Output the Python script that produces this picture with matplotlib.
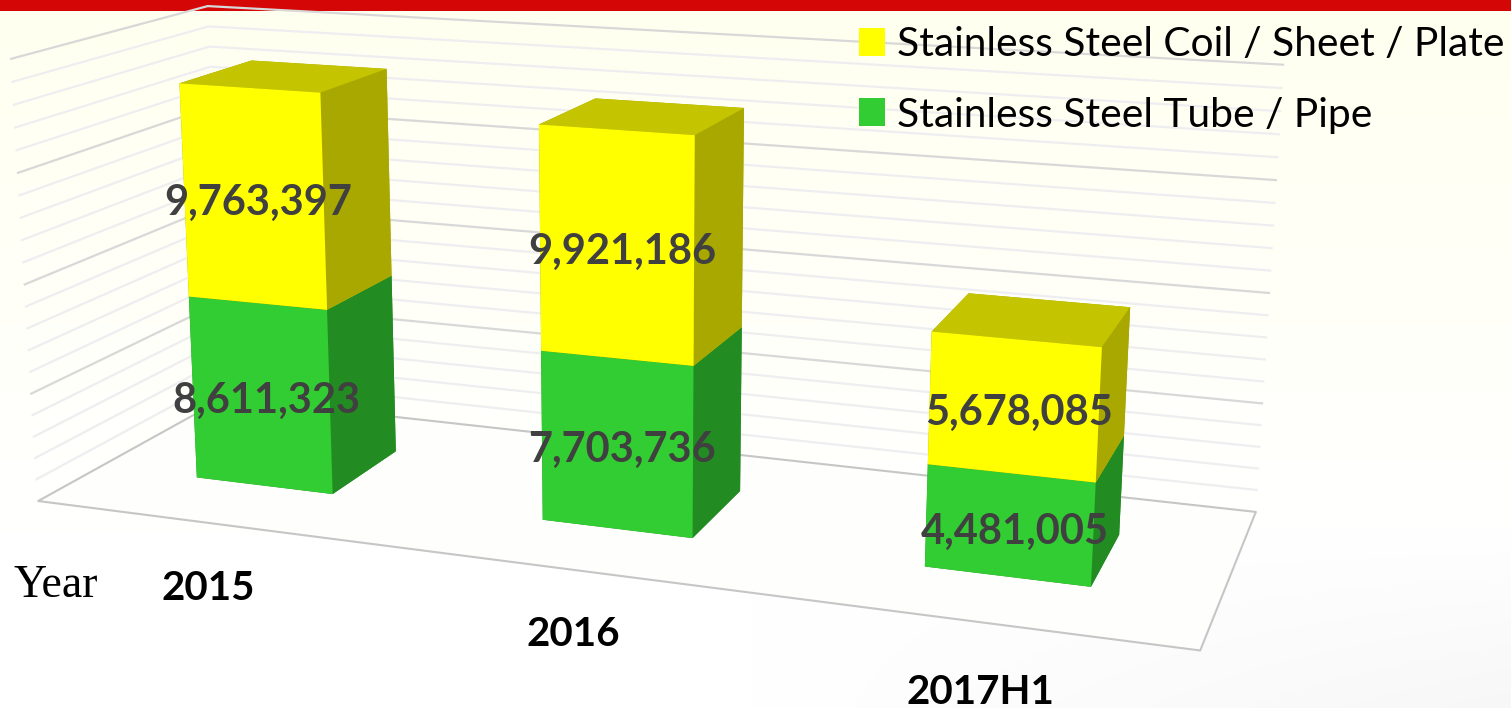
import numpy as np
import matplotlib
matplotlib.use("Agg")
import matplotlib.pyplot as plt
from matplotlib.patches import Patch, Rectangle
from mpl_toolkits.mplot3d import proj3d
from mpl_toolkits.mplot3d.art3d import Poly3DCollection

# Data
years = ["2015", "2016", "2017H1"]
tube = [8611323, 7703736, 4481005]
coil = [9763397, 9921186, 5678085]
series_names = ["Stainless Steel Coil / Sheet / Plate", "Stainless Steel Tube / Pipe"]
grid_levels = list(range(0, 21000000, 1000000))

W, H = 1511, 708
S = 1700  # side of the square 3d axes, in pixels

# camera, fitted against the picture
elev, azim, roll = 14.2614, -70.1412, -0.0291
focal, zoom = 0.2820, 0.7573
cx, cy = 620.08, 311.64
box_y, box_z = 0.3323, 0.3879
bar_w, bar_y0, bar_y1, bar_x0 = 0.4043, 0.3107, 0.7011, 0.296
z_max = 20000000


def fig_xy(x, y):
    return x / W, 1 - y / H


fig = plt.figure(figsize=(W / 100, H / 100), dpi=100)

# page background
bg = fig.add_axes([0, 0, 1, 1], zorder=0)
v = np.linspace(0, 1, 200)[:, None]
u = np.linspace(0, 1, 300)[None, :]
fade = np.clip(v / 0.75, 0, 1)
img = np.ones((200, 300, 3))
img[:, :, 2] = 0.94 + 0.06 * fade
shade = np.clip((v - 0.75) / 0.25, 0, 1) * np.clip((u - 0.5) / 0.5, 0, 1) * 0.03
img = np.clip(img - shade[:, :, None], 0, 1)
bg.imshow(img, extent=[0, W, H, 0], aspect="auto", interpolation="bilinear")
bg.add_patch(Rectangle((0, 0), W, 11, fc="#D50606", ec="none"))
bg.set_xlim(0, W)
bg.set_ylim(H, 0)
bg.axis("off")

ax = fig.add_axes([(cx - S / 2) / W, 1 - (cy + S / 2) / H, S / W, S / H],
                  projection="3d", zorder=1)
ax.patch.set_alpha(0)
ax.computed_zorder = False
ax.set_xlim(0, 3)
ax.set_ylim(0, 1)
ax.set_zlim(0, z_max)
ax.view_init(elev=elev, azim=azim, roll=roll)
ax.set_proj_type("persp", focal_length=focal)
ax.set_box_aspect((1, box_y, box_z), zoom=zoom)
ax.set_axis_off()
ax.apply_aspect()
M = ax.get_proj()

# floor
floor = Poly3DCollection([[(0, 0, 0), (3, 0, 0), (3, 1, 0), (0, 1, 0)]],
                         facecolor="#FEFEFD", edgecolor="#C6C6C6", linewidth=1.5, zorder=1)
ax.add_collection3d(floor)

# wall grid, heavier every 5 million
for lev in grid_levels[1:]:
    major = lev % 5000000 == 0
    ax.plot([0, 0, 3], [0, 1, 1], [lev, lev, lev],
            color="#D8D8D8" if major else "#EEEEF1", lw=1.6, zorder=2)

# stacked boxes, faces are -z +z -y +y -x +x
yellow = ["#C4C400", "#C4C400", "#FFFF00", "#A8A800", "#A8A800", "#A8A800"]
green = ["#228B22", "#228B22", "#32CD32", "#228B22", "#228B22", "#228B22"]
for i in range(3):
    x = bar_x0 + i
    ax.bar3d(x, bar_y0, 0, bar_w, bar_y1 - bar_y0, tube[i], color=green, shade=False, zorder=3 + i)
    ax.bar3d(x, bar_y0, tube[i], bar_w, bar_y1 - bar_y0, coil[i], color=yellow, shade=False, zorder=3.5 + i)

    # value labels go on the page at the projected spot of the front face
    for base, val in [(0, tube[i]), (tube[i], coil[i])]:
        px, py, _ = proj3d.proj_transform(x + bar_w / 2 + 0.015, bar_y0, base + val / 2 - 250000, M)
        px, py = ax.transData.transform((px, py))
        fig.text(px / W, py / H, f"{val:,}", ha="center", va="center", fontsize=30,
                 fontweight="bold", family="Lato", color="#404040", zorder=5)

# category labels sit on the page
year_pos = [(208, 589), (573, 635), (980, 692)]
for name, (px, py) in zip(years, year_pos):
    fx, fy = fig_xy(px, py)
    fig.text(fx, fy, name, ha="center", va="center", fontsize=29, fontweight="bold",
             family="Lato", color="black", zorder=5)
fx, fy = fig_xy(14, 586)
fig.text(fx, fy, "Year", ha="left", va="center", fontsize=33, family="Liberation Serif",
         color="black", zorder=5)

handles = [Patch(fc="#FFFF00", ec="none"), Patch(fc="#32CD32", ec="none")]
fig.legend(handles, series_names, loc="upper left", bbox_to_anchor=fig_xy(847, 14),
           frameon=False, prop={"family": "Lato", "size": 29.3}, handlelength=0.64,
           handleheight=0.68, handletextpad=0.3, labelspacing=0.82, borderpad=0.3,
           borderaxespad=0)

fig.savefig("out.png", dpi=100)
